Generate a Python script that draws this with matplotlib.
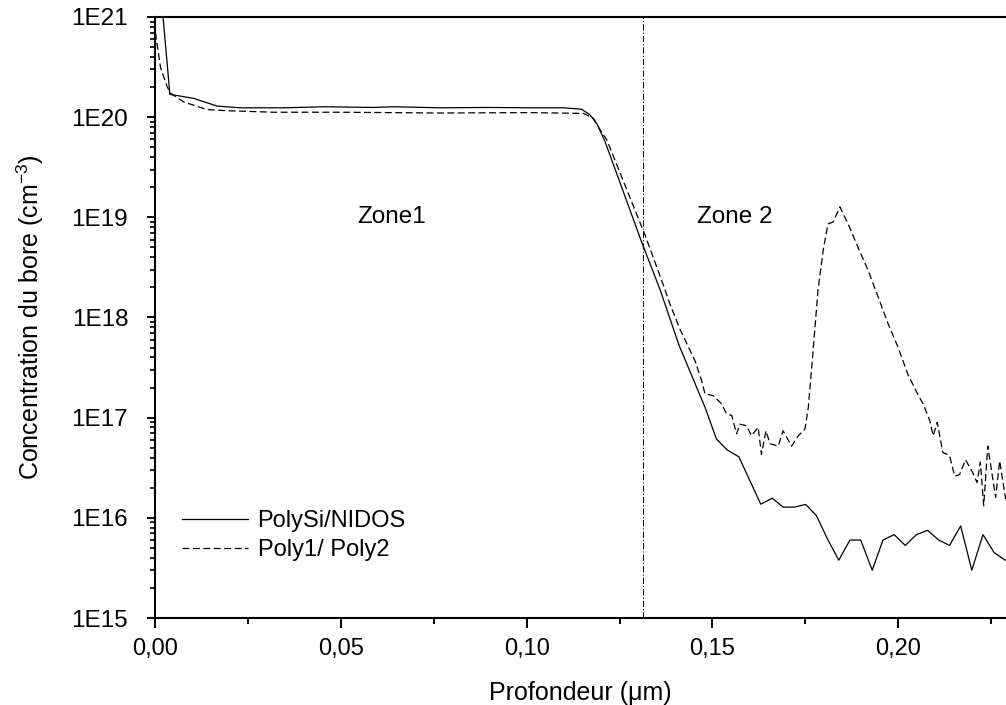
import matplotlib
matplotlib.use('Agg')
import matplotlib.pyplot as plt
from matplotlib.ticker import LogLocator, NullFormatter

plt.rcParams['font.family'] = ['Liberation Sans', 'DejaVu Sans']
plt.rcParams['mathtext.default'] = 'regular'
plt.rcParams['lines.scale_dashes'] = False

# depth (um) and boron concentration (cm-3)
x_solid = [0.000, 0.004, 0.0104, 0.0167, 0.0230, 0.0346, 0.0454, 0.0588, 0.0642, 0.0767,
           0.0900, 0.1009, 0.1100, 0.1148, 0.1171, 0.1189, 0.1211, 0.1310, 0.1359, 0.1410,
           0.1453, 0.1480, 0.1511, 0.1540, 0.1571, 0.1601, 0.1630, 0.1661, 0.1690, 0.1720,
           0.1751, 0.1780, 0.1810, 0.1840, 0.1870, 0.1899, 0.1930, 0.1959, 0.1989, 0.2019,
           0.2049, 0.2079, 0.2109, 0.2138, 0.2168, 0.2198, 0.2228, 0.2258, 0.2288]
y_solid = [8e21, 1.69e20, 1.54e20, 1.29e20, 1.24e20, 1.24e20, 1.27e20, 1.25e20, 1.27e20, 1.24e20,
           1.25e20, 1.24e20, 1.24e20, 1.20e20, 1.05e20, 8.6e19, 5.7e19, 5.6e18, 1.9e18, 5.3e17,
           2.2e17, 1.27e17, 6.1e16, 4.75e16, 4.07e16, 2.34e16, 1.37e16, 1.57e16, 1.28e16, 1.28e16,
           1.36e16, 1.05e16, 6.1e15, 3.78e15, 6.0e15, 6.0e15, 3.0e15, 6.0e15, 6.8e15, 5.3e15,
           6.8e15, 7.5e15, 6.0e15, 5.3e15, 8.3e15, 3.0e15, 6.8e15, 4.5e15, 3.78e15]

x_dash = [0.0001, 0.0015, 0.0033, 0.0042, 0.0077, 0.0140, 0.0194, 0.0319, 0.0499, 0.0767,
          0.1009, 0.1153, 0.1180, 0.1193, 0.1216, 0.1319, 0.1368, 0.1386, 0.1413, 0.1453,
          0.1471, 0.1480, 0.1502, 0.1525, 0.1538, 0.1552, 0.1565, 0.1574, 0.1592, 0.1605,
          0.1623, 0.1632, 0.1644, 0.1655, 0.1677, 0.1690, 0.1713, 0.1731, 0.1749, 0.1758,
          0.1771, 0.1784, 0.1798, 0.1811, 0.1825, 0.1843, 0.1865, 0.1892, 0.1919, 0.1946,
          0.1973, 0.2000, 0.2026, 0.2053, 0.2067, 0.2085, 0.2094, 0.2105, 0.2120, 0.2138,
          0.2152, 0.2165, 0.2181, 0.2201, 0.2212, 0.2221, 0.2230, 0.2241, 0.2262, 0.2273,
          0.2289]
y_dash = [7.0e20, 3.1e20, 2.0e20, 1.73e20, 1.42e20, 1.19e20, 1.16e20, 1.12e20, 1.12e20, 1.10e20,
          1.11e20, 1.09e20, 9.7e19, 8.0e19, 5.9e19, 6.6e18, 2.1e18, 1.35e18, 7.6e17, 3.7e17,
          2.34e17, 1.73e17, 1.66e17, 1.37e17, 1.09e17, 1.05e17, 6.9e16, 8.6e16, 8.3e16, 6.6e16,
          8.0e16, 4.3e16, 7.4e16, 5.5e16, 5.2e16, 7.4e16, 5.2e16, 6.6e16, 7.7e16, 1.27e17,
          4.7e17, 1.86e18, 4.7e18, 8.6e18, 9.0e18, 1.27e19, 8.6e18, 5.0e18, 2.95e18, 1.6e18,
          8.6e17, 5.0e17, 2.7e17, 1.7e17, 1.37e17, 9.3e16, 6.6e16, 9.0e16, 4.5e16, 4.2e16,
          2.6e16, 2.7e16, 3.8e16, 2.8e16, 2.25e16, 3.6e16, 1.32e16, 5.2e16, 1.6e16, 3.7e16,
          1.54e16]

x_zone = 0.1312
xticks = [0.00, 0.05, 0.10, 0.15, 0.20]
xtick_labels = ['0,00', '0,05', '0,10', '0,15', '0,20']
yticks = [1e15, 1e16, 1e17, 1e18, 1e19, 1e20, 1e21]
ytick_labels = ['1E15', '1E16', '1E17', '1E18', '1E19', '1E20', '1E21']

fig = plt.figure(figsize=(10.06, 7.05), dpi=100)
ax = fig.add_axes([0.1541, 0.1234, 0.8459, 0.8525])

ax.plot(x_solid, y_solid, color='black', lw=0.9, label='PolySi/NIDOS')
ax.plot(x_dash, y_dash, color='black', lw=0.9, dashes=(5, 2.5), label='Poly1/ Poly2')
ax.axvline(x_zone, color='black', lw=0.7, dashes=(4.5, 1.5, 0.8, 1.5))

ax.set_yscale('log')
ax.set_xlim(0, 0.2290)
ax.set_ylim(1e15, 1e21)

ax.set_xticks(xticks)
ax.set_xticklabels(xtick_labels, fontsize=17)
ax.set_xticks([0.025, 0.075, 0.125, 0.175, 0.225], minor=True)
ax.set_yticks(yticks)
ax.set_yticklabels(ytick_labels, fontsize=17.5)
ax.yaxis.set_minor_locator(LogLocator(base=10, subs=range(2, 10)))
ax.yaxis.set_minor_formatter(NullFormatter())

ax.tick_params(axis='x', which='major', direction='out', length=7.2, width=1.4, pad=7.5)
ax.tick_params(axis='x', which='minor', direction='out', length=4.3, width=1.4)
ax.tick_params(axis='y', which='major', direction='out', length=5.8, width=1.4, pad=13.5)
ax.tick_params(axis='y', which='minor', direction='out', length=3.6, width=1.2)

for side in ['left', 'bottom']:
    ax.spines[side].set_linewidth(1.5)
ax.spines['top'].set_linewidth(1.5)
ax.spines['right'].set_visible(False)

ax.set_xlabel('Profondeur (μm)', fontsize=18)
ax.xaxis.set_label_coords(0.5, -0.104)
ax.xaxis.label.set_va('top')
ax.set_ylabel('Concentration du bore (cm$^{-3}$)', fontsize=18)
ax.yaxis.set_label_coords(-0.128, 0.5)

ax.text(0.0544, 1e19, 'Zone1', fontsize=17.5, ha='left', va='center')
ax.text(0.1458, 1e19, 'Zone 2', fontsize=17.5, ha='left', va='center')

ax.legend(loc='upper left', bbox_to_anchor=(0.0317, 0.180), frameon=False, fontsize=17,
          handlelength=2.8, handletextpad=0.4, labelspacing=0.32, borderpad=0, borderaxespad=0)

fig.savefig('out.png', dpi=100)
